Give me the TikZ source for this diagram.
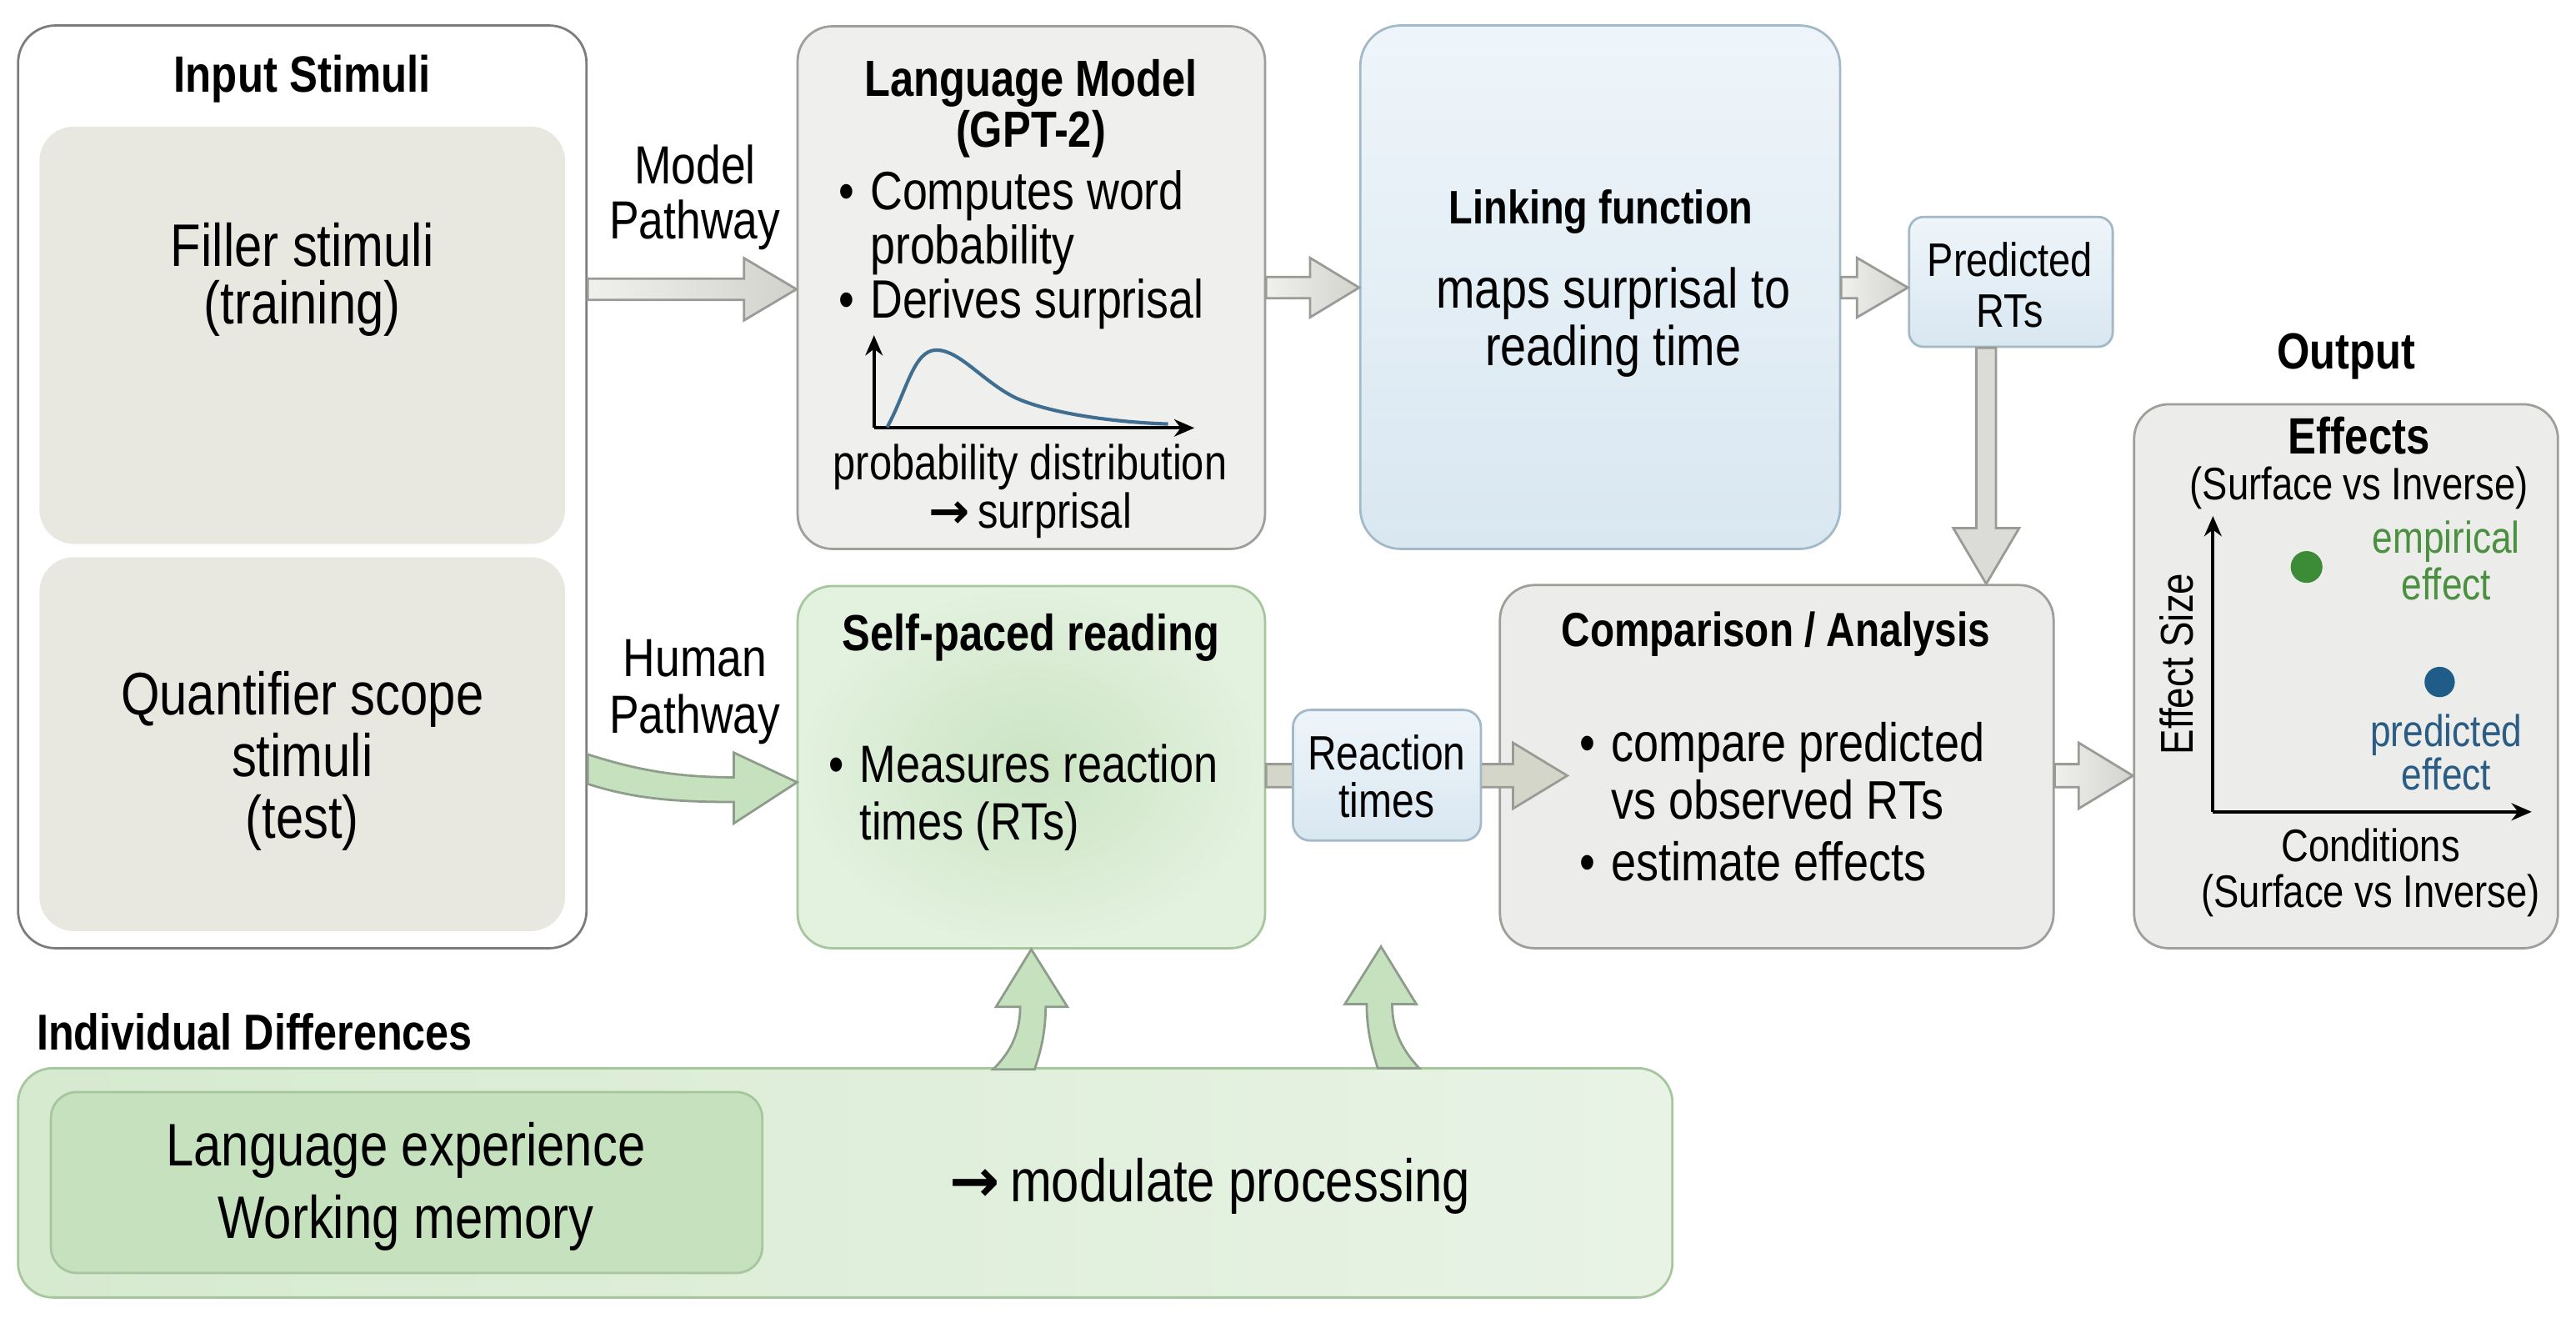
\documentclass[tikz,border=0pt]{standalone}
\usepackage{fontspec}
\setmainfont{Liberation Sans}[FakeStretch=0.83]
\newfontfamily\arrowfont{DejaVu Sans}
\usetikzlibrary{arrows.meta,calc,fit}
\definecolor{inbord}{HTML}{7C7C7C}
\definecolor{stimfill}{HTML}{E8E8E1}
\definecolor{lmfill}{HTML}{EFEFED}
\definecolor{grayb}{HTML}{9E9E9A}
\definecolor{cmpfill}{HTML}{ECECEA}
\definecolor{bluefillA}{HTML}{EEF5FA}
\definecolor{bluefillB}{HTML}{D9E7F1}
\definecolor{blueb}{HTML}{A3B9C8}
\definecolor{greenin}{HTML}{CBE4C3}
\definecolor{greenout}{HTML}{E3F1DF}
\definecolor{greenb}{HTML}{A6C79E}
\definecolor{idleft}{HTML}{D6EAD0}
\definecolor{idright}{HTML}{E8F3E5}
\definecolor{idinner}{HTML}{C6E1BD}
\definecolor{arrA}{HTML}{F0F0EE}
\definecolor{arrB}{HTML}{D2D2CD}
\definecolor{arrb}{HTML}{9A9A96}
\definecolor{rtarr}{HTML}{D3D6C9}
\definecolor{garrfill}{HTML}{C6E1BE}
\definecolor{garrb}{HTML}{8E9C8B}
\definecolor{empgreen}{HTML}{3C8C37}
\definecolor{emptext}{HTML}{4A9040}
\definecolor{predblue}{HTML}{1F5C88}
\definecolor{predtext}{HTML}{2A5C84}
\definecolor{curveblue}{HTML}{3F6E91}
\newcommand\fs[2]{\fontsize{#1}{#2}\selectfont}
% horizontal block arrow: [style]{start}{tip}{shaft half}{head half}{head length}
\newcommand\HArr[6][]{%
  \draw[#1] let \p1=(#2), \p2=(#3) in
   (\x1,{\y1+#4}) -- ({\x2-#6},{\y1+#4}) -- ({\x2-#6},{\y1+#5}) -- (\x2,\y1)
   -- ({\x2-#6},{\y1-#5}) -- ({\x2-#6},{\y1-#4}) -- (\x1,{\y1-#4}) -- cycle;}
% vertical (downward) block arrow
\newcommand\VArr[6][]{%
  \draw[#1] let \p1=(#2), \p2=(#3) in
   ({\x1+#4},\y1) -- ({\x1+#4},{\y2+#6}) -- ({\x1+#5},{\y2+#6}) -- (\x1,\y2)
   -- ({\x1-#5},{\y2+#6}) -- ({\x1-#4},{\y2+#6}) -- ({\x1-#4},\y1) -- cycle;}
\begin{document}
\begin{tikzpicture}[x=0.02cm, y=-0.02cm,
  box/.style={inner sep=0pt, rounded corners=12pt, line width=0.8pt},
  txt/.style={inner sep=0pt},
  grayarrow/.style={draw=arrb, line width=0.8pt, left color=arrA, right color=arrB},
  grayvarrow/.style={draw=arrb, line width=0.8pt, fill=arrB!70!arrA},
  rtarrow/.style={draw=arrb, line width=0.8pt, fill=rtarr},
  greenarrow/.style={draw=garrb, line width=0.8pt, fill=garrfill},
  axis/.style={line width=1.1pt, -{Stealth[length=7pt,width=6pt]}}]

\fill[white] (0,0) rectangle (1568,805);
\useasboundingbox (0,0) rectangle (1568,805);

% ---------- boxes ----------
\node[box, draw=inbord, fill=white, rounded corners=13pt, fit={(11,15.5) (357,577)}] (inbox) {};
\node[box, fill=stimfill, fit={(24,77) (344,331)}] (filler) {};
\node[box, fill=stimfill, fit={(24,339) (344,566.6)}] (quant) {};
\node[box, draw=grayb, fill=lmfill, fit={(485.5,16) (770,334)}] (lmbox) {};
\node[box, draw=blueb, top color=bluefillA, bottom color=bluefillB, rounded corners=14pt, fit={(828,15.5) (1120,334)}] (link) {};
\node[box, draw=blueb, top color=bluefillA, bottom color=bluefillB, rounded corners=5pt, fit={(1162,132) (1286,211)}] (pred) {};
\node[box, draw=greenb, inner color=greenin, outer color=greenout, fit={(485.5,356.6) (770,577)}] (spr) {};
\node[box, draw=grayb, fill=cmpfill, fit={(913,356) (1250,577)}] (cmp) {};
\node[box, draw=grayb, fill=cmpfill, fit={(1299,246) (1557,577)}] (outbox) {};
\node[box, draw=greenb, left color=idleft, right color=idright, fit={(11,650) (1018,789.5)}] (idbox) {};
\node[box, draw=greenb, fill=idinner, rounded corners=9pt, fit={(31,664.5) (464,774.6)}] (idin) {};

% ---------- arrows ----------
\HArr[grayarrow]{inbox.east |- 0,176}{lmbox.west |- 0,176}{3.7pt}{10.8pt}{18.2pt}
\HArr[grayarrow]{lmbox.east |- 0,175}{link.west |- 0,175}{3.7pt}{10.3pt}{17pt}
\HArr[grayarrow]{link.east |- 0,175}{pred.west |- 0,175}{3.7pt}{10.3pt}{17.6pt}
\VArr[grayvarrow]{1209,0 |- pred.south}{1209,0 |- cmp.north}{3.4pt}{11.4pt}{19.3pt}
\coordinate (rtTip) at (954,472);
\HArr[rtarrow]{spr.east |- rtTip}{rtTip}{4pt}{11.4pt}{18.8pt}
\HArr[grayarrow]{cmp.east |- 0,472}{outbox.west |- 0,472}{4pt}{11.4pt}{18.8pt}

% human pathway (curved)
\draw[greenarrow, shift={(inbox.east |- 0,468)}]
  (0,-9) .. controls (28,0) and (53,5) .. (89,5) -- (89,-10) -- (127.5,8) -- (89,33) -- (89,20)
  .. controls (53,20) and (28,18) .. (0,9) -- cycle;

% individual differences arrows (curved up)
\draw[greenarrow, shift={(spr.south)}]
  (0,0) -- (22,35) -- (8.7,35) .. controls (8.7,52) and (5,64) .. (2,73) -- (-23.3,73)
  .. controls (-12,62) and (-6.8,50) .. (-6.8,35) -- (-21.5,35) -- cycle;
\coordinate (upTip) at (840.6,576);
\draw[greenarrow, shift={(upTip)}, xscale=-1]
  (0,0) -- (22,35) -- (8.7,35) .. controls (8.7,52) and (5,64) .. (2,74) -- (-23.3,74)
  .. controls (-12,62) and (-6.8,50) .. (-6.8,35) -- (-21.5,35) -- cycle;

\node[box, draw=blueb, top color=bluefillA, bottom color=bluefillB, rounded corners=6pt, fit={(787,432) (901.4,511.5)}] (react) {};

% ---------- texts ----------
\node[txt, font=\bfseries\fs{17.7}{17}] (intitle) at (184,48) {Input Stimuli};
\node[txt, align=center, font=\fs{20.8}{19.9}] (fillertxt) at (184,170) {Filler stimuli\\(training)};
\node[txt, align=center, font=\fs{20.8}{21.3}] (quanttxt) at (184,463) {Quantifier scope\\stimuli\\(test)};
\node[txt, align=center, font=\fs{18.6}{19}] (mpath) at (423,120) {Model\\Pathway};
\node[txt, align=center, font=\fs{18.6}{19.4}] (hpath) at (423,421) {Human\\Pathway};

\node[txt, align=center, font=\bfseries\fs{17.6}{15.9}] (lmtitle) at (627.5,66) {Language Model\\(GPT-2)};
\node[txt, align=left, anchor=west, font=\fs{18.7}{18.8}] (lmbul) at (510,152) {•\hspace{0.3em}Computes word\\\phantom{•\hspace{0.3em}}probability\\•\hspace{0.3em}Derives surprisal};
\draw[axis] (532,260.4) -- (532,204);
\draw[axis] (532,260.4) -- (727,260.4);
\draw[curveblue, line width=1.2pt] (540,260) .. controls (552,238) and (556,213) .. (570,213)
  .. controls (584,213) and (598,232) .. (618,242) .. controls (640,252) and (680,257) .. (711,258);
\node[txt, align=center, font=\fs{17}{14}] (pdist) at (627,299) {probability distribution\\{\arrowfont\bfseries →}\,surprisal};

\node[txt, font=\bfseries\fs{16.3}{16}] (linktitle) at (974.5,129) {Linking function};
\node[txt, align=center, font=\fs{19.4}{19.9}] (linktxt) at (982,196) {maps surprisal to\\reading time};
\node[txt, align=center, font=\fs{16.3}{17.6}] (predtxt) at (1223.5,173.5) {Predicted\\RTs};

\node[txt, font=\bfseries\fs{17.6}{16}] (sprtitle) at (627.5,388) {Self-paced reading};
\node[txt, align=left, anchor=west, font=\fs{18.2}{19.9}] (sprbul) at (504,485.5) {•\hspace{0.3em}Measures reaction\\\phantom{•\hspace{0.3em}}times (RTs)};
\node[txt, align=center, font=\fs{16.7}{16.5}] (reacttxt) at (844,472.5) {Reaction\\times};

\node[txt, font=\bfseries\fs{16.6}{16}] (cmptitle) at (1081,386) {Comparison / Analysis};
\node[txt, align=left, anchor=west, font=\fs{18.8}{19.9}] (cmpbul) at (961,488) {•\hspace{0.3em}compare predicted\\\phantom{•\hspace{0.3em}}vs observed RTs\\[1.5pt]•\hspace{0.3em}estimate effects};

\node[txt, font=\bfseries\fs{17.6}{16}] (outtitle) at (1428,217) {Output};
\node[txt, font=\bfseries\fs{17.7}{16}] (efftitle) at (1436,265) {Effects};
\node[txt, font=\fs{15.8}{15}] (effsub) at (1436,297) {(Surface vs Inverse)};
\draw[axis] (1347,494) -- (1347,314);
\draw[axis] (1347,494) -- (1541,494);
\node[txt, rotate=90, font=\fs{15.9}{15}] (esize) at (1325,404) {Effect Size};
\node[circle, fill=empgreen, inner sep=0pt, minimum size=11pt] (empdot) at (1404,345) {};
\node[txt, align=center, text=emptext, font=\fs{15.4}{16}] (emptxt) at (1489,341) {empirical\\effect};
\node[circle, fill=predblue, inner sep=0pt, minimum size=10.5pt] (preddot) at (1485,415) {};
\node[txt, align=center, text=predtext, font=\fs{15.4}{15}] (predefftxt) at (1489,458) {predicted\\effect};
\node[txt, align=center, font=\fs{15.8}{16}] (condtxt) at (1443,531) {Conditions\\(Surface vs Inverse)};

\node[txt, anchor=west, font=\bfseries\fs{17.5}{16}] (idtitle) at (22,628) {Individual Differences};
\node[txt, align=center, font=\fs{20.8}{25}] (idtxt) at (247,722) {Language experience\\Working memory};
\node[txt, font=\fs{20.8}{20}] (modtxt) at (736.5,722) {{\arrowfont\bfseries →}\,modulate processing};
\end{tikzpicture}
\end{document}
